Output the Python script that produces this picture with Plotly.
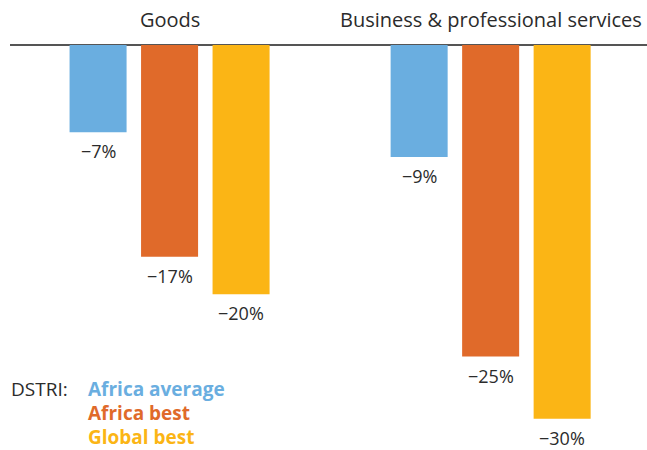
import plotly.graph_objects as go

# DSTRI effect by sector
groups = ["Goods", "Business & professional services"]
series = ["Africa average", "Africa best", "Global best"]
values = {
    "Africa average": [-7, -9],
    "Africa best": [-17, -25],
    "Global best": [-20, -30],
}
colors = {
    "Africa average": "#6aaee0",
    "Africa best": "#e06a2a",
    "Global best": "#fbb515",
}

FONT = "Open Sans"
TEXT = "#2b2b2b"
PITCH = 0.2227   # spacing between bars within a group (x units)
WIDTH = 0.1776   # bar width (x units)
W, H, ML = 647, 450, 10


def px(x):
    """Horizontal pixel position -> paper coordinate."""
    return (x - ML) / (W - ML)


fig = go.Figure()
annotations = []
for si, name in enumerate(series):
    xs = [gi + (si - 1) * PITCH for gi in range(len(groups))]
    ys = values[name]
    fig.add_trace(go.Bar(
        x=xs, y=ys, width=WIDTH, marker=dict(color=colors[name], line=dict(width=0)),
        name=name, showlegend=False, hoverinfo="skip",
    ))
    for x, y in zip(xs, ys):
        annotations.append(dict(
            x=x, y=y, xref="x", yref="y", text=f"\u2212{abs(y)}%",
            showarrow=False, yshift=-19, font=dict(family=FONT, size=18, color=TEXT),
        ))

# group titles above the zero line
for gi, g in enumerate(groups):
    annotations.append(dict(
        x=gi, y=1 - 20 / H, xref="x", yref="paper", text=g, showarrow=False,
        font=dict(family=FONT, size=20, color=TEXT), yanchor="middle",
    ))

# series key
annotations.append(dict(
    x=px(9), y=1 - 389 / H, xref="paper", yref="paper", text="DSTRI:",
    showarrow=False, xanchor="left", yanchor="middle",
    font=dict(family=FONT, size=19, color=TEXT),
))
for i, name in enumerate(series):
    annotations.append(dict(
        x=px(86), y=1 - (389 + 24 * i) / H, xref="paper", yref="paper",
        text=f"<b>{name}</b>", showarrow=False, xanchor="left", yanchor="middle",
        font=dict(family=FONT, size=19, color=colors[name]),
    ))

fig.update_layout(
    width=W, height=H,
    margin=dict(l=ML, r=0, t=0, b=0),
    paper_bgcolor="white", plot_bgcolor="white",
    barmode="overlay",
    annotations=annotations,
    xaxis=dict(range=[-0.497, 1.487], visible=False, showgrid=False, zeroline=False),
    yaxis=dict(range=[-32.5, 3.6], showgrid=False, showticklabels=False,
               zeroline=True, zerolinecolor="#555555", zerolinewidth=1.5),
)

fig.write_html("out.html")
